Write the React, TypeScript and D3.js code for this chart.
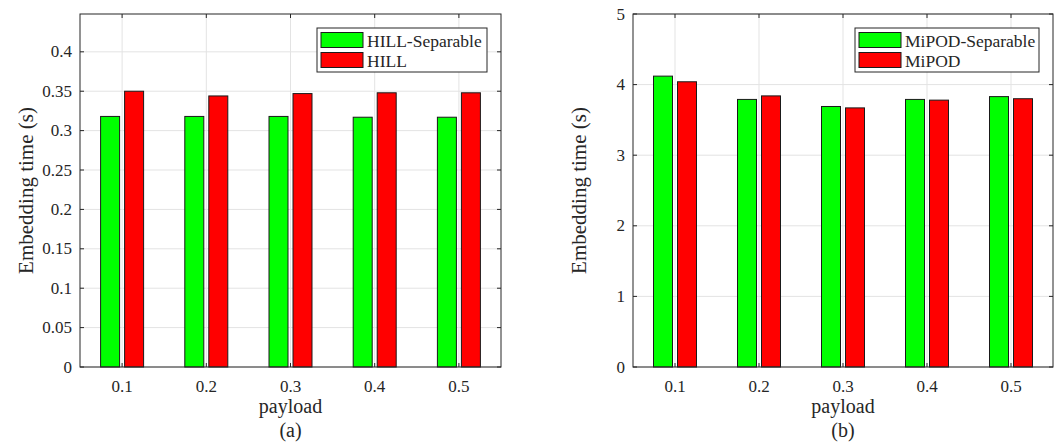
import React, { useEffect, useRef } from "react";
import * as d3 from "d3";

const payloads = [0.1, 0.2, 0.3, 0.4, 0.5];
const hillSep = [0.318, 0.318, 0.318, 0.317, 0.317];
const hill = [0.35, 0.344, 0.347, 0.348, 0.348];
const mipodSep = [4.12, 3.79, 3.69, 3.79, 3.83];
const mipod = [4.04, 3.84, 3.67, 3.78, 3.80];
const yTicksA = [0, 0.05, 0.1, 0.15, 0.2, 0.25, 0.3, 0.35, 0.4];
const yTicksB = [0, 1, 2, 3, 4, 5];

const FONT = "'Liberation Serif', 'Times New Roman', serif";
const INK = "#262626";
const GREEN = "#00ff00";
const RED = "#ff0000";

type Panel = {
  left: number;
  right: number;
  yMax: number;
  yTicks: number[];
  yFmt: (v: number) => string;
  a: number[];
  b: number[];
  names: string[];
  legendX: number;
  legendW: number;
  tag: string;
};

const panels: Panel[] = [
  {
    left: 80, right: 501, yMax: 0.448, yTicks: yTicksA,
    yFmt: (v) => (v === 0 ? "0" : String(+v.toFixed(2))),
    a: hillSep, b: hill, names: ["HILL-Separable", "HILL"],
    legendX: 317, legendW: 170, tag: "(a)",
  },
  {
    left: 633, right: 1053, yMax: 5, yTicks: yTicksB,
    yFmt: (v) => String(v),
    a: mipodSep, b: mipod, names: ["MiPOD-Separable", "MiPOD"],
    legendX: 855, legendW: 184, tag: "(b)",
  },
];

const App = () => {
  const ref = useRef<SVGSVGElement>(null);

  useEffect(() => {
    const svg = d3.select(ref.current);
    svg.selectAll("*").remove();
    const top = 14, bottom = 367, tl = 4;

    panels.forEach((p) => {
      const g = svg.append("g");
      const x = d3.scaleLinear().domain([0.05, 0.55]).range([p.left, p.right]);
      const y = d3.scaleLinear().domain([0, p.yMax]).range([bottom, top]);
      const bw = 19, off = 12;

      g.append("rect").attr("x", p.left).attr("y", top)
        .attr("width", p.right - p.left).attr("height", bottom - top).attr("fill", "#fff");

      // grid
      g.selectAll(".gy").data(p.yTicks).enter().append("line")
        .attr("x1", p.left).attr("x2", p.right)
        .attr("y1", (d) => y(d)).attr("y2", (d) => y(d))
        .attr("stroke", "#e3e3e3").attr("stroke-width", 1);
      g.selectAll(".gx").data(payloads).enter().append("line")
        .attr("x1", (d) => x(d)).attr("x2", (d) => x(d))
        .attr("y1", top).attr("y2", bottom)
        .attr("stroke", "#e3e3e3").attr("stroke-width", 1);

      // bars
      g.selectAll(".ba").data(p.a).enter().append("rect")
        .attr("x", (d, i) => x(payloads[i]) - off - bw / 2)
        .attr("y", (d) => y(d)).attr("width", bw)
        .attr("height", (d) => bottom - y(d))
        .attr("fill", GREEN).attr("stroke", "#1a1a1a").attr("stroke-width", 1);
      g.selectAll(".bb").data(p.b).enter().append("rect")
        .attr("x", (d, i) => x(payloads[i]) + off - bw / 2)
        .attr("y", (d) => y(d)).attr("width", bw)
        .attr("height", (d) => bottom - y(d))
        .attr("fill", RED).attr("stroke", "#1a1a1a").attr("stroke-width", 1);

      // box
      g.append("rect").attr("x", p.left).attr("y", top)
        .attr("width", p.right - p.left).attr("height", bottom - top)
        .attr("fill", "none").attr("stroke", INK).attr("stroke-width", 1);

      // ticks
      payloads.forEach((v) => {
        g.append("line").attr("x1", x(v)).attr("x2", x(v)).attr("y1", bottom).attr("y2", bottom - tl).attr("stroke", INK);
        g.append("line").attr("x1", x(v)).attr("x2", x(v)).attr("y1", top).attr("y2", top + tl).attr("stroke", INK);
        g.append("text").attr("x", x(v)).attr("y", 392).attr("text-anchor", "middle")
          .attr("font-family", FONT).attr("font-size", 17).attr("fill", INK).text(String(v));
      });
      p.yTicks.forEach((v) => {
        g.append("line").attr("x1", p.left).attr("x2", p.left + tl).attr("y1", y(v)).attr("y2", y(v)).attr("stroke", INK);
        g.append("line").attr("x1", p.right).attr("x2", p.right - tl).attr("y1", y(v)).attr("y2", y(v)).attr("stroke", INK);
        g.append("text").attr("x", p.left - 8).attr("y", y(v)).attr("dy", "0.33em")
          .attr("text-anchor", "end").attr("font-family", FONT).attr("font-size", 17)
          .attr("fill", INK).text(p.yFmt(v));
      });

      const cx = (p.left + p.right) / 2;
      g.append("text").attr("x", cx).attr("y", 413).attr("text-anchor", "middle")
        .attr("font-family", FONT).attr("font-size", 20).attr("fill", INK).text("payload");
      g.append("text").attr("x", cx).attr("y", 437).attr("text-anchor", "middle")
        .attr("font-family", FONT).attr("font-size", 20).attr("fill", INK).text(p.tag);
      g.append("text")
        .attr("transform", `translate(${p.left - 47},${(top + bottom) / 2}) rotate(-90)`)
        .attr("text-anchor", "middle").attr("font-family", FONT).attr("font-size", 21)
        .attr("fill", INK).text("Embedding time (s)");

      // legend
      const lg = g.append("g");
      lg.append("rect").attr("x", p.legendX).attr("y", 28).attr("width", p.legendW).attr("height", 44)
        .attr("fill", "#fff").attr("stroke", INK).attr("stroke-width", 1);
      [GREEN, RED].forEach((c, i) => {
        lg.append("rect").attr("x", p.legendX + 4).attr("y", 32.5 + i * 20).attr("width", 42).attr("height", 15)
          .attr("fill", c).attr("stroke", "#1a1a1a").attr("stroke-width", 1);
        lg.append("text").attr("x", p.legendX + 50).attr("y", 46.5 + i * 20)
          .attr("font-family", FONT).attr("font-size", 17.5).attr("fill", INK).text(p.names[i]);
      });
    });
  }, []);

  return (
    <svg ref={ref} width={1056} height={445}
      style={{ position: "absolute", left: 0, top: 0, background: "#fff" }} />
  );
};

export default App;
